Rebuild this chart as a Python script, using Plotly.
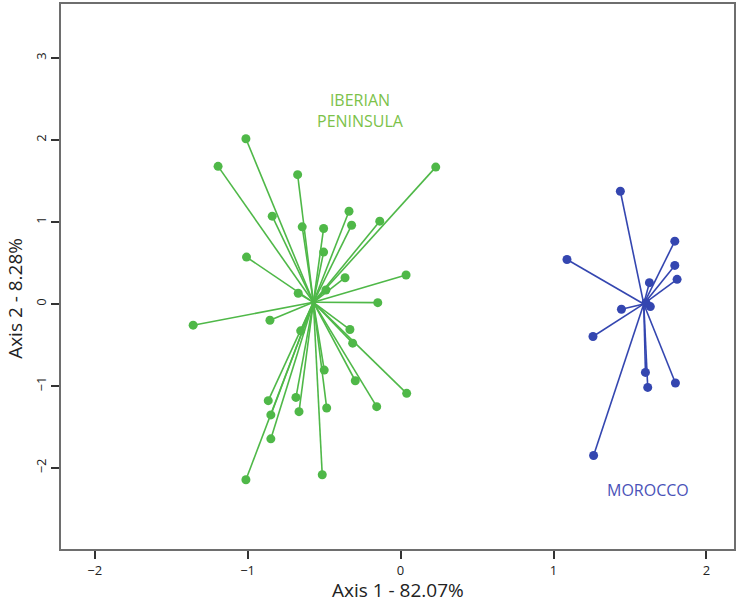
import plotly.graph_objects as go

# ---- data ----
iberia_centroid = (-0.57, 0.02)
iberia_x = [-1.011, -1.193, -0.673, 0.230, -0.839, -0.643, -0.503, -0.337, -0.320, -0.136,
            -0.503, -1.007, -0.363, 0.036, -0.669, -0.488, -0.149, -1.356, -0.854, -0.653,
            -0.331, -0.313, -0.499, -0.296, 0.040, -0.156, -0.483, -0.865, -0.684, -0.848,
            -0.664, -0.848, -1.011, -0.512]
iberia_y = [2.016, 1.679, 1.578, 1.670, 1.071, 0.941, 0.921, 1.131, 0.961, 1.010,
            0.633, 0.572, 0.320, 0.353, 0.130, 0.170, 0.016, -0.259, -0.199, -0.328,
            -0.312, -0.478, -0.807, -0.937, -1.091, -1.253, -1.269, -1.180, -1.140, -1.354,
            -1.314, -1.646, -2.145, -2.084]

morocco_centroid = (1.59, 0.0)
morocco_x = [1.437, 1.088, 1.793, 1.793, 1.808, 1.627, 1.444, 1.633, 1.605, 1.258,
             1.601, 1.616, 1.797, 1.262]
morocco_y = [1.375, 0.543, 0.766, 0.470, 0.300, 0.260, -0.065, -0.032, 0.016, -0.397,
             -0.835, -1.018, -0.965, -1.849]

x_ticks = [-2, -1, 0, 1, 2]
y_ticks = [-2, -1, 0, 1, 2, 3]
x_title = "Axis 1 - 82.07%"
y_title = "Axis 2 - 8.28%"
group_labels = ["IBERIAN<br>PENINSULA", "MOROCCO"]

GREEN = "#4fb848"
GREEN_LABEL = "#7cc24a"
BLUE = "#3446b0"
BLUE_LABEL = "#4a52b8"
FONT = "Open Sans"


def spokes(c, xs, ys):
    lx, ly = [], []
    for x, y in zip(xs, ys):
        lx += [c[0], x, None]
        ly += [c[1], y, None]
    return lx, ly


fig = go.Figure()
for c, xs, ys, col in [(iberia_centroid, iberia_x, iberia_y, GREEN),
                       (morocco_centroid, morocco_x, morocco_y, BLUE)]:
    lx, ly = spokes(c, xs, ys)
    fig.add_trace(go.Scatter(x=lx, y=ly, mode="lines",
                             line=dict(color=col, width=1.6), hoverinfo="skip",
                             showlegend=False))
    fig.add_trace(go.Scatter(x=xs, y=ys, mode="markers",
                             marker=dict(color=col, size=9, line=dict(width=0)),
                             showlegend=False))

fig.add_annotation(x=-0.259, y=2.36, xref="x", yref="y", text=group_labels[0],
                   showarrow=False, font=dict(family=FONT, size=16, color=GREEN_LABEL),
                   align="center")
fig.add_annotation(x=1.62, y=-2.27, xref="x", yref="y", text=group_labels[1],
                   showarrow=False, font=dict(family=FONT, size=16, color=BLUE_LABEL))

fig.add_annotation(x=0.5, y=0, xref="paper", yref="paper", yshift=-41, text=x_title,
                   showarrow=False, font=dict(family=FONT, size=19, color="#222"),
                   yanchor="middle")
fig.add_annotation(x=0, y=0.459, xref="paper", yref="paper", xshift=-46, text=y_title,
                   showarrow=False, textangle=-90, font=dict(family=FONT, size=19, color="#222"),
                   xanchor="center", yanchor="middle")

axis_common = dict(showgrid=False, zeroline=False, showline=True, linecolor="#6e6e6e",
                   linewidth=2, mirror=True, ticks="outside", ticklen=8, tickwidth=1.5,
                   tickcolor="#333", tickfont=dict(family=FONT, size=13, color="#222"))
fig.update_xaxes(range=[-2.22, 2.18], tickvals=x_ticks, **axis_common)
fig.update_yaxes(range=[-2.99, 3.66], tickvals=y_ticks, tickangle=-90, **axis_common)

fig.update_layout(width=740, height=603, margin=dict(l=61, r=6, t=2, b=54),
                  plot_bgcolor="white", paper_bgcolor="white")
fig.write_html("out.html", config={"displayModeBar": False},
               post_script="document.body.style.margin='0px';document.body.style.overflow='hidden';")
